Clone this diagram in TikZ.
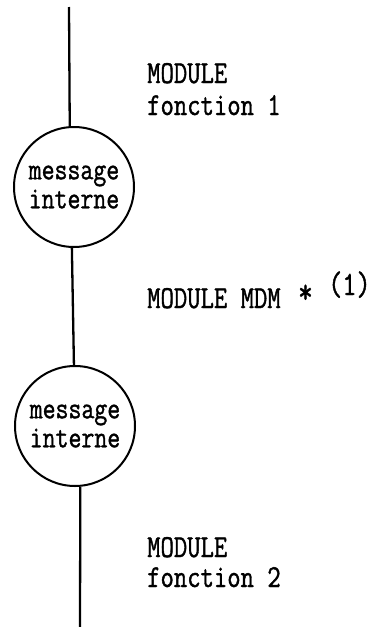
\documentclass[tikz,border=0pt]{standalone}
\usepackage{fontspec}
\newfontfamily\twfont[FakeStretch=0.81,FakeBold=1.2]{Latin Modern Mono}
\begin{document}
\begin{tikzpicture}[x=1pt,y=-1pt,
  wire/.style={line width=2.3pt},
  bubble/.style={circle,draw,line width=2pt,minimum size=120pt,inner sep=0pt,
    align=center,font=\twfont\fontsize{31}{29}\selectfont},
  lbl/.style={anchor=base west,inner sep=0pt,font=\twfont\fontsize{32}{30}\selectfont},
  star/.style={anchor=base west,inner sep=0pt,font=\twfont\fontsize{35}{30}\selectfont},
  small/.style={anchor=base west,inner sep=0pt,font=\twfont\fontsize{34}{30}\selectfont}]
\useasboundingbox (0,0) rectangle (383,627);
\node[bubble] (c1) at (74,187) {message\\interne};
\node[bubble] (c2) at (75,426) {message\\interne};
\coordinate (top) at (69,7);
\coordinate (bot) at (80,627);
\draw[wire] (top) -- (c1.94);
\draw[wire] (c1.-92) -- (c2.91);
\draw[wire] (c2.-85) -- (bot);
\node[lbl] (m1) at (147,83) {MODULE};
\node[lbl] (f1) at (147,115) {fonction 1};
\node[lbl] (m2) at (147,308) {MODULE MDM};
\node[star] (ast) at (298,303) {*};
\node[small] (n1) at (328,295) {(1)};
\node[lbl] (m3) at (147,557) {MODULE};
\node[lbl] (f2) at (147,587) {fonction 2};
\end{tikzpicture}
\end{document}
